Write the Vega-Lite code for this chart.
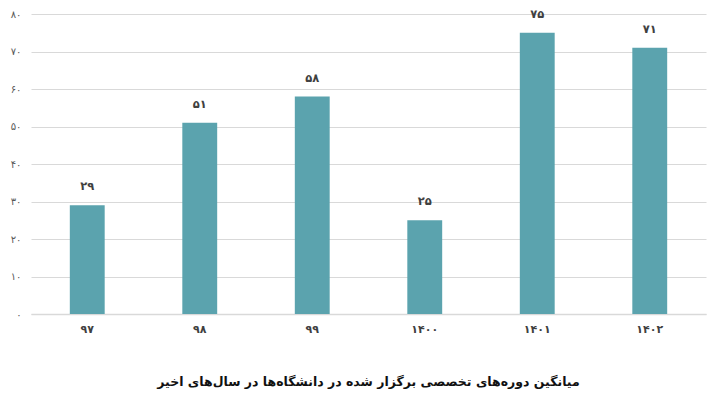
{
  "$schema": "https://vega.github.io/schema/vega-lite/v6.json",
  "autosize": {"type": "none"},
  "width": 675,
  "height": 300,
  "padding": {"left": 31, "top": 14, "right": 14, "bottom": 94},
  "background": "white",
  "data": {
    "values": [
      {"year": "۹۷", "value": 29, "label": "۲۹"},
      {"year": "۹۸", "value": 51, "label": "۵۱"},
      {"year": "۹۹", "value": 58, "label": "۵۸"},
      {"year": "۱۴۰۰", "value": 25, "label": "۲۵"},
      {"year": "۱۴۰۱", "value": 75, "label": "۷۵"},
      {"year": "۱۴۰۲", "value": 71, "label": "۷۱"}
    ]
  },
  "title": {
    "text": "میانگین دوره‌های تخصصی برگزار شده در دانشگاه‌ها در سال‌های اخیر",
    "orient": "bottom",
    "anchor": "middle",
    "font": "DejaVu Sans",
    "fontSize": 12.5,
    "fontWeight": "bold",
    "color": "#111111",
    "offset": 42
  },
  "config": {
    "view": {"stroke": null},
    "font": "DejaVu Sans"
  },
  "encoding": {
    "x": {
      "field": "year",
      "type": "nominal",
      "sort": null,
      "scale": {"paddingInner": 0.69, "paddingOuter": 0.345},
      "axis": {
        "title": null,
        "labelAngle": 0,
        "ticks": false,
        "domainColor": "#d9d9d9",
        "domainWidth": 1.5,
        "labelFont": "DejaVu Sans",
        "labelFontSize": 11,
        "labelFontWeight": "bold",
        "labelColor": "#404040",
        "labelPadding": 9
      }
    },
    "y": {
      "field": "value",
      "type": "quantitative",
      "scale": {"domain": [0, 80], "nice": false},
      "axis": {
        "title": null,
        "values": [0, 10, 20, 30, 40, 50, 60, 70, 80],
        "ticks": false,
        "domain": false,
        "gridColor": "#d9d9d9",
        "gridWidth": 1,
        "labelFont": "DejaVu Sans",
        "labelFontSize": 10,
        "labelColor": "#595959",
        "labelPadding": 10,
        "labelExpr": "replace(replace(replace(replace(replace(replace(replace(replace(replace(datum.label, /0/g, '۰'), /1/g, '۱'), /2/g, '۲'), /3/g, '۳'), /4/g, '۴'), /5/g, '۵'), /6/g, '۶'), /7/g, '۷'), /8/g, '۸')"
      }
    }
  },
  "layer": [
    {"mark": {"type": "bar", "color": "#5ba3ae"}},
    {
      "mark": {
        "type": "text",
        "baseline": "bottom",
        "dy": -13,
        "font": "DejaVu Sans",
        "fontSize": 11.5,
        "fontWeight": "bold",
        "color": "#404040"
      },
      "encoding": {"text": {"field": "label"}}
    }
  ]
}
